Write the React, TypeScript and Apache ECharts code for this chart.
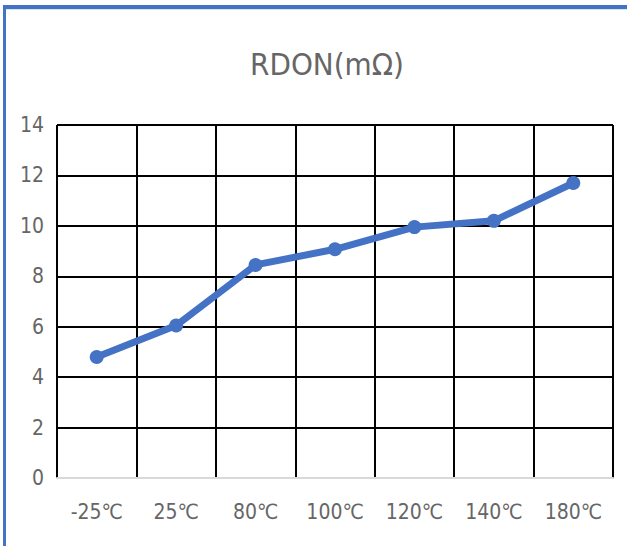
import React, { useEffect, useRef } from "react";
import * as echarts from "echarts";

// Temperature points and measured on-resistance (mΩ)
const temperatures = ["-25℃", "25℃", "80℃", "100℃", "120℃", "140℃", "180℃"];
const rdonValues = [4.8, 6.05, 8.45, 9.07, 9.95, 10.2, 11.7];
const chartTitle = "RDON(mΩ)";
const yMin = 0;
const yMax = 14;
const yStep = 2;

const FONT =
  "'Liberation Sans Narrow', 'DejaVu Sans Condensed', 'Noto Sans CJK SC', sans-serif";
const TEXT_GRAY = "#666666";
const FRAME_BLUE = "#4472C4";

export default function App() {
  const ref = useRef<HTMLDivElement>(null);

  useEffect(() => {
    if (!ref.current) return;
    const chart = echarts.init(ref.current, null, { renderer: "svg" });
    chart.setOption({
      animation: false,
      backgroundColor: "#ffffff",
      title: {
        text: chartTitle,
        left: 322,
        top: 43,
        textAlign: "center",
        textStyle: {
          fontFamily: FONT,
          fontSize: 31,
          fontWeight: "normal",
          color: TEXT_GRAY,
        },
      },
      grid: { left: 57, right: 14, top: 125, bottom: 68 },
      xAxis: {
        type: "category",
        data: temperatures,
        boundaryGap: true,
        axisLine: { show: true, lineStyle: { color: "#d9d9d9", width: 2 } },
        axisTick: { show: false },
        axisLabel: {
          fontFamily: FONT,
          fontSize: 21,
          color: TEXT_GRAY,
          margin: 23,
        },
        splitLine: {
          show: true,
          interval: 0,
          lineStyle: { color: "#000000", width: 2 },
        },
      },
      yAxis: {
        type: "value",
        min: yMin,
        max: yMax,
        interval: yStep,
        axisLine: { show: false },
        axisTick: { show: false },
        axisLabel: {
          fontFamily: FONT,
          fontSize: 21,
          color: TEXT_GRAY,
          margin: 13,
        },
        splitLine: {
          show: true,
          showMinLine: false,
          lineStyle: { color: "#000000", width: 2 },
        },
      },
      series: [
        {
          type: "line",
          data: rdonValues,
          symbol: "circle",
          symbolSize: 14,
          lineStyle: { color: FRAME_BLUE, width: 7 },
          itemStyle: { color: FRAME_BLUE },
          z: 5,
        },
      ],
      graphic: [
        {
          type: "rect",
          shape: { x: 3, y: 5, width: 624, height: 4 },
          style: { fill: FRAME_BLUE },
          z: 100,
        },
        {
          type: "rect",
          shape: { x: 6, y: 9, width: 621, height: 1 },
          style: { fill: "#cfe8f3" },
          z: 100,
        },
        {
          type: "rect",
          shape: { x: 3, y: 5, width: 3, height: 541 },
          style: { fill: FRAME_BLUE },
          z: 100,
        },
      ],
    });
    return () => chart.dispose();
  }, []);

  return (
    <div
      ref={ref}
      style={{ position: "fixed", left: 0, top: 0, width: 627, height: 546 }}
    />
  );
}
